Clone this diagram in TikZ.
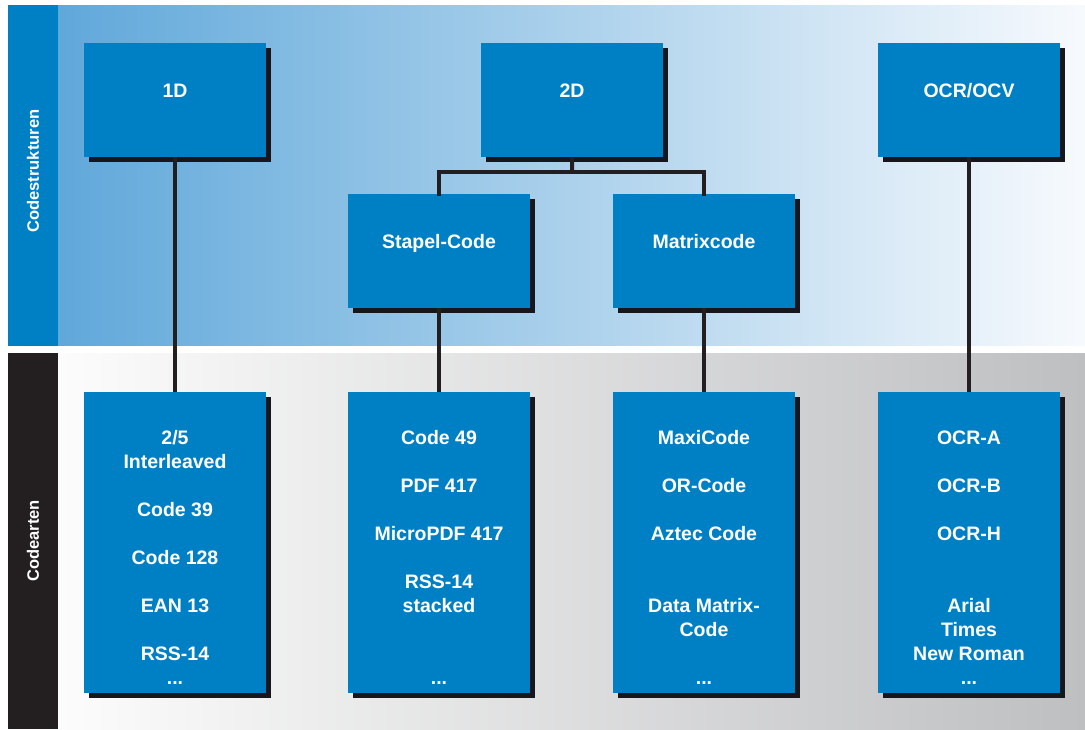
\documentclass[tikz,border=0pt]{standalone}
\usepackage{fontspec}
\setmainfont{Liberation Sans}
\usetikzlibrary{positioning}
\definecolor{boxblue}{RGB}{0,128,196}
\definecolor{topL}{RGB}{96,168,218}
\definecolor{topR}{RGB}{247,250,253}
\definecolor{botL}{RGB}{252,252,252}
\definecolor{botR}{RGB}{190,191,193}
\definecolor{darkline}{RGB}{35,31,32}
\definecolor{shadowc}{RGB}{22,22,28}
\tikzset{
  codebox/.style={fill=boxblue, draw=none, inner sep=0pt, minimum width=182pt},
  boxshadow/.style={fill=shadowc},
  boxtext/.style={text=white, font=\fontsize{19.5}{24}\selectfont\bfseries, align=center, inner sep=0pt},
  sidetext/.style={text=white, font=\fontsize{16.5}{18}\selectfont\bfseries, rotate=90, inner sep=0pt},
  link/.style={draw=darkline, line width=4pt},
}
\begin{document}
\begin{tikzpicture}[x=1pt,y=-1pt]
\useasboundingbox (0,0) rectangle (1085,729);
% bands
\shade[left color=topL, right color=topR] (58,5) rectangle (1085,345.5);
\shade[left color=botL, right color=botR] (58,353) rectangle (1085,729);
\fill[boxblue] (8,5) rectangle (58,345.5);
\fill[darkline] (8,353) rectangle (58,729);
\node[sidetext] (lblstruct) at (33,171) {Codestrukturen};
\node[sidetext] (lblarten) at (33,541) {Codearten};
% shadows
\foreach \x/\y/\h in {84/43/114, 481/43/114, 878/43/114, 348/194/114, 613/194/114,
                      84/392/301, 348/392/301, 613/392/301, 878/392/301}
  \fill[boxshadow] (\x+5,\y+5) rectangle (\x+187,\y+\h+5);
% top boxes
\node[codebox, minimum height=114pt, anchor=north west] (d1) at (84,43) {};
\node[codebox, minimum height=114pt, anchor=north west] (d2) at (481,43) {};
\node[codebox, minimum height=114pt, anchor=north west] (ocr) at (878,43) {};
\node[codebox, minimum height=114pt, anchor=north west] (stapel) at (348,194) {};
\node[codebox, minimum height=114pt, anchor=north west] (matrix) at (613,194) {};
% bottom boxes
\node[codebox, minimum height=301pt, anchor=north west] (l1) at (84,392) {};
\node[codebox, minimum height=301pt, anchor=north west] (l2) at (348,392) {};
\node[codebox, minimum height=301pt, anchor=north west] (l3) at (613,392) {};
\node[codebox, minimum height=301pt, anchor=north west] (l4) at (878,392) {};
% connectors
\coordinate (j2) at (572,172);
\draw[link] (d1.south) -- (l1.north);
\draw[link] (ocr.south) -- (l4.north);
\draw[link] (d2.south) -- (j2);
\draw[link, line cap=rect] (stapel.north) |- (j2) -| (matrix.north);
\draw[link] (stapel.south) -- (l2.north);
\draw[link] (matrix.south) -- (l3.north);
% top labels
\node[boxtext, anchor=base] (t1) at (175,97) {1D};
\node[boxtext, anchor=base] (t2) at (572,97) {2D};
\node[boxtext, anchor=base] (t3) at (969,97) {OCR/OCV};
\node[boxtext, anchor=base] (t4) at (439,248) {Stapel-Code};
\node[boxtext, anchor=base] (t5) at (704,248) {Matrixcode};
% list texts: 11 lines on a 24pt grid, last baseline at 684
\node[boxtext, anchor=base] (x1) at (175,684) {2/5\\Interleaved\\[24pt]Code 39\\[24pt]Code 128\\[24pt]EAN 13\\[24pt]RSS-14\\...};
\node[boxtext, anchor=base] (x2) at (439,684) {Code 49\\[24pt]PDF 417\\[24pt]MicroPDF 417\\[24pt]RSS-14\\stacked\\[48pt]...};
\node[boxtext, anchor=base] (x3) at (704,684) {MaxiCode\\[24pt]OR-Code\\[24pt]Aztec Code\\[48pt]Data Matrix-\\Code\\[24pt]...};
\node[boxtext, anchor=base] (x4) at (969,684) {OCR-A\\[24pt]OCR-B\\[24pt]OCR-H\\[48pt]Arial\\Times\\New Roman\\...};
\end{tikzpicture}
\end{document}
